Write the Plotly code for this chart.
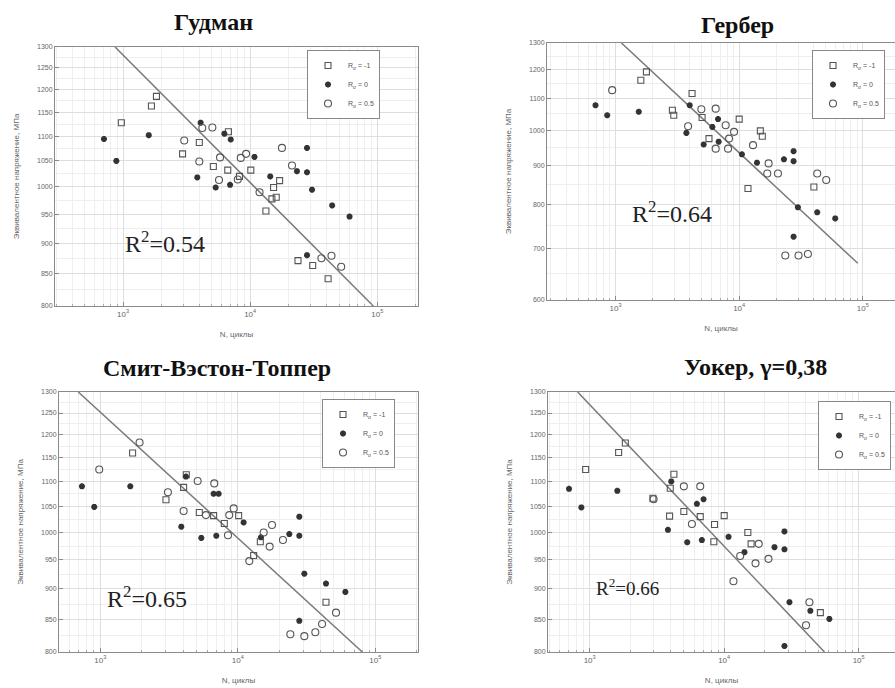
import plotly.graph_objects as go
import math

# ---------------- data ----------------
titles = ["Гудман", "Гербер", "Смит-Вэстон-Топпер", "Уокер, γ=0,38"]
r2_labels = ["R<sup>2</sup>=0.54", "R<sup>2</sup>=0.64", "R<sup>2</sup>=0.65", "R<sup>2</sup>=0.66"]
series_names = ["R<sub>σ</sub> = -1", "R<sub>σ</sub> = 0", "R<sub>σ</sub> = 0.5"]

# Goodman
g_sq_n = [1832, 1673, 970, 3981, 2940, 5133, 6663, 10115, 8240, 17047, 15280, 16030, 14820, 13300, 23770, 31030, 41020, 6745]
g_sq_s = [1185, 1164, 1128, 1087, 1064, 1039, 1032, 1032, 1020, 1012, 999, 981, 978, 956, 871, 863, 842, 1109]
g_as_n = [708, 886, 1594, 4078, 6266, 7031, 3837, 5355, 6950, 10810, 14380, 23330, 27990, 27990, 30660, 44140, 60480, 27990]
g_as_s = [1094, 1050, 1102, 1128, 1105, 1093, 1018, 999, 1004, 1058, 1020, 1030, 1076, 1028, 995, 966, 946, 880]
g_ci_n = [3031, 4204, 5042, 3981, 5795, 8433, 9290, 7991, 5690, 11850, 17780, 21330, 36350, 43610, 52000]
g_ci_s = [1091, 1117, 1118, 1049, 1057, 1056, 1064, 1014, 1013, 990, 1076, 1041, 875, 879, 861]
g_fit_n = [865, 93000]
g_fit_s = [1300, 800]

# Gerber
e_sq_n = [1778, 1602, 2884, 2958, 5012, 4159, 10000, 5700, 14830, 15380, 11780, 40180]
e_sq_s = [1192, 1162, 1062, 1046, 1039, 1117, 1034, 975, 998, 982, 839, 843]
e_as_n = [689, 857, 1542, 3741, 3981, 5164, 6068, 6745, 6823, 10520, 13930, 23010, 27540, 27540, 29850, 42760, 59780, 27540]
e_as_s = [1078, 1046, 1057, 992, 1078, 958, 1010, 1034, 966, 930, 907, 916, 939, 911, 793, 781, 767, 726]
e_ci_n = [940, 4943, 6457, 3865, 7780, 9085, 8280, 6457, 8128, 12940, 17300, 16870, 20590, 42760, 50550, 23600, 30200, 35940]
e_ci_s = [1128, 1065, 1067, 1012, 1015, 995, 975, 946, 946, 956, 905, 878, 878, 878, 861, 686, 686, 689]
e_fit_n = [1117, 91000]
e_fit_s = [1300, 670]

# Smith-Watson-Topper
s_sq_n = [1718, 3003, 4036, 4222, 5250, 6668, 7976, 10140, 13030, 14570, 43750]
s_sq_s = [1160, 1063, 1088, 1114, 1038, 1032, 1017, 1032, 958, 983, 878]
s_as_n = [736, 904, 1653, 3882, 4198, 5427, 6975, 6668, 7255, 11020, 14730, 23690, 27990, 27990, 30450, 43750, 60530, 27990]
s_as_s = [1090, 1049, 1090, 1011, 1110, 990, 994, 1075, 1075, 1019, 991, 997, 1030, 994, 926, 909, 895, 848]
s_ci_n = [1931, 983, 3104, 4036, 5104, 6745, 5863, 9333, 8664, 8482, 12120, 15420, 17730, 17040, 21290, 24090, 30450, 36600, 40970, 51760]
s_ci_s = [1183, 1125, 1078, 1041, 1101, 1096, 1033, 1046, 1033, 995, 948, 1000, 1014, 974, 986, 827, 824, 830, 843, 861]
s_fit_n = [692, 80400]
s_fit_s = [1300, 800]

# Walker
w_sq_n = [933, 1641, 1841, 2951, 3927, 3973, 4227, 5012, 6637, 8475, 10000, 14990, 15850, 51880, 8375]
w_sq_s = [1125, 1161, 1182, 1066, 1031, 1086, 1115, 1040, 1030, 1015, 1032, 1000, 979, 861, 983]
w_as_n = [702, 867, 1605, 3817, 4040, 5309, 6265, 7024, 6823, 10770, 14150, 23660, 28050, 28050, 30570, 43710, 60530, 28050]
w_as_s = [1085, 1048, 1081, 1005, 1100, 982, 1055, 1064, 986, 992, 964, 973, 1002, 969, 878, 864, 851, 809]
w_ci_n = [5012, 6637, 5754, 2985, 13150, 17100, 21340, 11720, 18060, 43030, 40600]
w_ci_s = [1090, 1090, 1016, 1064, 957, 944, 952, 913, 979, 878, 841]
w_fit_n = [814, 55700]
w_fit_s = [1300, 800]

y_ticks_a = [800, 850, 900, 950, 1000, 1050, 1100, 1150, 1200, 1250, 1300]
y_ticks_b = [600, 700, 800, 900, 1000, 1100, 1200, 1300]
x_ticks = [1e3, 1e4, 1e5]
x_tick_text = ["10<sup>3</sup>", "10<sup>4</sup>", "10<sup>5</sup>"]

# ---------------- layout geometry ----------------
W, H = 895, 688
def fx(px):
    return px / W
def fy(py):
    return 1 - py / H

panels = [
    dict(sq=(g_sq_n, g_sq_s), ast=(g_as_n, g_as_s), ci=(g_ci_n, g_ci_s), fit=(g_fit_n, g_fit_s),
         xdom=[fx(55), fx(418)], ydom=[fy(306), fy(47)], xr=[2.465, 5.32], yr=[800, 1300], yt=y_ticks_a,
         title_xy=(213, 22), r2_xy=(165, 242), r2_size=24, leg_xy=(307, 50), mirror_y=True),
    dict(sq=(e_sq_n, e_sq_s), ast=(e_as_n, e_as_s), ci=(e_ci_n, e_ci_s), fit=(e_fit_n, e_fit_s),
         xdom=[fx(547), 1.0], ydom=[fy(300), fy(43)], xr=[2.446, 5.26], yr=[600, 1300], yt=y_ticks_b,
         title_xy=(737, 25), r2_xy=(672, 212), r2_size=24, leg_xy=(812, 50), mirror_y=False),
    dict(sq=(s_sq_n, s_sq_s), ast=(s_as_n, s_as_s), ci=(s_ci_n, s_ci_s), fit=(s_fit_n, s_fit_s),
         xdom=[fx(59), fx(418)], ydom=[fy(652), fy(392)], xr=[2.70, 5.31], yr=[800, 1300], yt=y_ticks_a,
         title_xy=(217, 368), r2_xy=(147, 597), r2_size=24, leg_xy=(322, 399), mirror_y=True),
    dict(sq=(w_sq_n, w_sq_s), ast=(w_as_n, w_as_s), ci=(w_ci_n, w_ci_s), fit=(w_fit_n, w_fit_s),
         xdom=[fx(548), 1.0], ydom=[fy(652), fy(392)], xr=[2.69, 5.27], yr=[800, 1300], yt=y_ticks_a,
         title_xy=(755, 367), r2_xy=(627, 587), r2_size=19, leg_xy=(818, 401), mirror_y=False),
]

minor_x = [m * 10 ** d for d in (2, 3, 4) for m in range(2, 10)] + [2e5]

fig = go.Figure()
annotations = []
layout = dict(width=W, height=H, margin=dict(l=0, r=0, t=0, b=0),
              paper_bgcolor="white", plot_bgcolor="white",
              font=dict(family="Liberation Sans, Arial, sans-serif", color="#555"))

for i, p in enumerate(panels):
    k = i + 1
    xa = "x" if k == 1 else f"x{k}"
    ya = "y" if k == 1 else f"y{k}"
    leg = "legend" if k == 1 else f"legend{k}"
    # fit line
    fig.add_trace(go.Scatter(x=p["fit"][0], y=p["fit"][1], mode="lines",
                             line=dict(color="#7a7a7a", width=1.5), xaxis=xa, yaxis=ya,
                             showlegend=False, hoverinfo="skip"))
    fig.add_trace(go.Scatter(x=p["sq"][0], y=p["sq"][1], mode="markers", name=series_names[0],
                             marker=dict(symbol="square-open", size=6, color="#555",
                                         line=dict(width=1.1)),
                             xaxis=xa, yaxis=ya, legend=leg))
    fig.add_trace(go.Scatter(x=p["ast"][0], y=p["ast"][1], mode="markers", name=series_names[1],
                             marker=dict(symbol="asterisk-open", size=5, color="#333",
                                         line=dict(width=2, color="#333")),
                             xaxis=xa, yaxis=ya, legend=leg))
    fig.add_trace(go.Scatter(x=p["ci"][0], y=p["ci"][1], mode="markers", name=series_names[2],
                             marker=dict(symbol="circle-open", size=7, color="#555",
                                         line=dict(width=1.1)),
                             xaxis=xa, yaxis=ya, legend=leg))

    yr = p["yr"]
    minor_y_step = 25 if yr[0] == 800 else 50
    minor_y = [v for v in range(yr[0], yr[1] + 1, minor_y_step)]
    layout["xaxis" if k == 1 else f"xaxis{k}"] = dict(
        domain=p["xdom"], anchor=ya, type="log", range=p["xr"],
        tickvals=x_ticks, ticktext=x_tick_text, tickfont=dict(size=8, color="#666"),
        showline=True, linecolor="#8a8a8a", linewidth=1, mirror=True,
        showgrid=True, gridcolor="#dedede", gridwidth=1,
        ticks="inside", ticklen=4, tickcolor="#8a8a8a",
        minor=dict(tickvals=minor_x, showgrid=True, gridcolor="#efefef", ticks="inside",
                   ticklen=2, tickcolor="#aaa"),
        title=dict(text="N, циклы", font=dict(size=8, color="#666"), standoff=13),
        zeroline=False, automargin=False)
    layout["yaxis" if k == 1 else f"yaxis{k}"] = dict(
        domain=p["ydom"], anchor=xa, type="log",
        range=[math.log10(yr[0]), math.log10(yr[1])],
        tickvals=p["yt"], tickfont=dict(size=7, color="#666"),
        showline=True, linecolor="#8a8a8a", linewidth=1, mirror=p["mirror_y"],
        showgrid=True, gridcolor="#dedede", gridwidth=1,
        ticks="inside", ticklen=4, tickcolor="#8a8a8a",
        minor=dict(tickvals=minor_y, showgrid=True, gridcolor="#efefef", ticks=""),
        title=dict(text="Эквивалентное напряжение, МПа", font=dict(size=8, color="#666"), standoff=16),
        zeroline=False, automargin=False)
    layout[leg] = dict(x=fx(p["leg_xy"][0]), y=fy(p["leg_xy"][1]), xanchor="left", yanchor="top",
                       bgcolor="white", bordercolor="#888", borderwidth=1,
                       font=dict(size=7, color="#555"), itemwidth=30, tracegroupgap=0)
    annotations.append(dict(text=f"<b>{titles[i]}</b>", x=fx(p["title_xy"][0]), y=fy(p["title_xy"][1]),
                            xref="paper", yref="paper", showarrow=False, xanchor="center", yanchor="middle",
                            font=dict(family="Liberation Serif, Times New Roman, serif", size=24, color="#111")))
    annotations.append(dict(text=r2_labels[i], x=fx(p["r2_xy"][0]), y=fy(p["r2_xy"][1]),
                            xref="paper", yref="paper", showarrow=False, xanchor="center", yanchor="middle",
                            font=dict(family="Liberation Serif, Times New Roman, serif",
                                      size=p["r2_size"], color="#222")))

layout["annotations"] = annotations
fig.update_layout(**layout)
fig.write_html("out.html")
